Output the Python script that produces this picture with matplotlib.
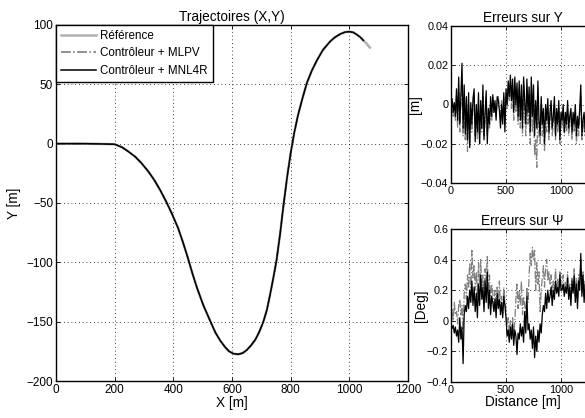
import numpy as np
import matplotlib
matplotlib.use("Agg")
import matplotlib.pyplot as plt

plt.rcParams['font.family'] = ['Liberation Sans', 'DejaVu Sans']
plt.rcParams['font.size'] = 8.5

# Trajectoire (X,Y)
traj_x = [0, 100, 150, 200, 225, 246, 270, 291, 315, 336, 356, 376, 396, 416, 432,
          448, 464, 480, 502, 525, 543, 560, 575, 590, 605, 621, 636, 650, 665,
          680, 694, 707, 719, 730, 741, 752, 764, 775, 788, 800, 812, 825, 840,
          855, 872, 889, 910, 934, 950, 970, 985, 1000, 1013, 1025, 1037, 1048,
          1060, 1070]
traj_y = [0, 0, -0.2, -0.5, -3, -6.5, -11, -16.3, -23.5, -31, -39.5, -49, -59.5, -71,
          -82.5, -95, -108.5, -121, -136, -149, -159, -166, -171, -175, -177,
          -177.5, -176.5, -174, -170, -165, -158, -150, -140, -127, -113, -98,
          -76, -53, -28, -8, 9, 24, 38, 51, 61.5, 70, 79, 86, 89.5, 92.5, 94,
          94.4, 93.8, 92, 89.8, 87, 84, 81]
n_ctrl = len(traj_x) - 2  # les controleurs s'arretent un peu avant la fin

# Distance parcourue (pas de 10 m)
distance = np.arange(0, 1240, 10)

ey_mnl4r = [0.002, 0.003, -0.004, 0.001, -0.006, 0.008, -0.008, 0.014, -0.010, 0.005, 0.021,
            -0.012, 0.010, -0.015, 0.004, -0.018, 0.006, -0.022, 0.001, -0.010, 0.003,
            0.008, -0.019, 0.000, -0.014, 0.006, -0.020, 0.002, -0.012, 0.010, -0.018,
            -0.004, 0.007, -0.020, -0.002, -0.010, 0.004, -0.006, 0.005, -0.004, 0.002,
            -0.008, 0.004, 0.002, -0.003, -0.012, 0.000, -0.010, 0.006, -0.014, 0.008,
            0.000, 0.012, 0.004, 0.015, 0.002, 0.013, -0.004, 0.014, 0.000, 0.011,
            -0.006, 0.012, -0.008, 0.010, -0.012, 0.014, 0.002, -0.010, 0.013, -0.004,
            0.009, -0.014, 0.014, -0.006, 0.010, -0.016, 0.002, -0.012, 0.012, -0.008,
            -0.016, 0.004, -0.010, -0.002, -0.020, 0.000, -0.008, 0.003, -0.014, -0.004,
            0.002, -0.012, -0.006, 0.004, -0.016, -0.002, -0.010, 0.002, -0.018, -0.004,
            -0.008, 0.000, -0.014, -0.004, -0.010, 0.002, -0.012, -0.006, -0.002, -0.014,
            -0.004, -0.010, 0.000, -0.016, -0.006, -0.012, -0.002, 0.010, -0.016, -0.008,
            -0.004, -0.014, -0.010]

ey_mlpv = [-0.002, 0.001, -0.006, 0.000, -0.008, 0.004, -0.012, 0.006, -0.014, 0.000, 0.010,
           -0.016, 0.002, -0.018, -0.004, -0.024, 0.000, -0.020, -0.004, -0.014, -0.002,
           0.004, -0.016, -0.006, -0.018, 0.000, -0.020, -0.002, -0.014, 0.004, -0.016,
           -0.008, 0.002, -0.016, -0.006, -0.012, 0.000, -0.008, 0.004, -0.004, 0.000,
           -0.006, 0.002, 0.004, -0.002, -0.008, 0.002, -0.006, 0.004, -0.010, 0.004,
           -0.002, 0.008, 0.002, 0.010, -0.002, 0.008, -0.008, 0.010, -0.004, 0.006,
           -0.010, 0.008, -0.012, 0.004, -0.016, 0.010, -0.006, -0.016, 0.006, -0.010,
           0.002, -0.020, 0.006, -0.014, 0.000, -0.026, -0.018, -0.032, 0.004, -0.016,
           -0.020, 0.000, -0.016, -0.008, -0.024, -0.004, -0.014, -0.002, -0.018, -0.008,
           -0.002, -0.016, -0.010, 0.000, -0.018, -0.006, -0.014, -0.002, -0.020, -0.008,
           -0.012, -0.004, -0.016, -0.008, -0.014, -0.002, -0.016, -0.010, -0.004, -0.018,
           -0.008, -0.014, -0.004, -0.020, -0.010, -0.016, -0.006, 0.004, -0.018, -0.012,
           -0.008, -0.016, -0.012]

epsi_mnl4r = [-0.02, -0.05, -0.03, -0.08, -0.04, -0.10, -0.06, -0.14, 0.02, -0.12, -0.04,
              -0.28, 0.04, 0.10, 0.06, 0.16, 0.08, 0.20, 0.12, 0.26, 0.10,
              0.22, 0.06, 0.18, 0.02, 0.24, 0.10, 0.30, 0.14, 0.22, 0.06,
              0.26, 0.12, 0.32, 0.08, 0.20, 0.04, 0.16, 0.12, 0.06, 0.14,
              0.02, 0.18, 0.08, 0.14, 0.04, 0.12, 0.02, 0.16, 0.10, 0.02,
              -0.10, -0.06, -0.14, -0.04, -0.12, -0.02, -0.16, -0.06, -0.10, -0.22,
              -0.08, -0.12, -0.02, -0.10, -0.04, -0.14, 0.06, -0.08, 0.16, -0.06,
              -0.02, -0.12, -0.06, -0.18, -0.04, -0.24, -0.10, -0.20, -0.06, -0.14,
              -0.02, -0.08, 0.04, 0.10, 0.06, 0.18, 0.08, 0.20, 0.12, 0.16,
              0.22, 0.10, 0.20, 0.14, 0.26, 0.18, 0.22, 0.16, 0.30, 0.20,
              0.20, 0.24, 0.16, 0.22, 0.18, 0.28, 0.14, 0.22, 0.10, 0.26,
              0.18, 0.30, 0.12, 0.24, 0.08, 0.26, 0.20, 0.44, 0.16, 0.30,
              0.12, 0.24, 0.16]

epsi_mlpv = [0.02, 0.08, 0.00, 0.12, 0.04, 0.06, -0.02, 0.10, 0.14, 0.04, 0.10,
             -0.06, 0.18, 0.24, 0.14, 0.30, 0.22, 0.38, 0.18, 0.46, 0.28,
             0.36, 0.20, 0.32, 0.16, 0.38, 0.24, 0.40, 0.22, 0.30, 0.16,
             0.34, 0.26, 0.42, 0.18, 0.30, 0.12, 0.24, 0.18, 0.10, 0.20,
             0.08, 0.22, 0.12, 0.26, 0.08, 0.16, 0.04, 0.22, 0.14, 0.06,
             -0.04, 0.02, -0.08, 0.00, -0.06, 0.02, -0.10, 0.00, 0.14, 0.24,
             0.08, 0.20, 0.10, 0.26, 0.04, 0.16, 0.10, 0.06, 0.22, 0.12,
             0.30, 0.44, 0.36, 0.48, 0.40, 0.46, 0.20, 0.38, 0.24, 0.32,
             0.06, 0.20, 0.28, 0.36, 0.22, 0.34, 0.40, 0.26, 0.32, 0.24,
             0.30, 0.18, 0.26, 0.20, 0.34, 0.22, 0.28, 0.20, 0.32, 0.24,
             0.22, 0.30, 0.18, 0.26, 0.20, 0.32, 0.16, 0.24, 0.14, 0.28,
             0.22, 0.34, 0.16, 0.28, 0.12, 0.30, 0.24, 0.40, 0.18, 0.32,
             0.16, 0.26, 0.20]

W, H = 585, 418
fig = plt.figure(figsize=(W / 100, H / 100), dpi=100)


def style_axes(ax, tick_size=8.5):
    ax.grid(True, color='black', linestyle=(0, (1, 3.5)), linewidth=0.6)
    ax.tick_params(direction='in', length=3, width=0.6, colors='black',
                   top=True, right=True, pad=2, labelsize=tick_size)
    for sp in ax.spines.values():
        sp.set_linewidth(1.0)


# Trajectoires
ax = fig.add_axes([56 / W, (H - 381) / H, 352 / W, 356 / H])
ax.plot(traj_x, traj_y, color='#b0b0b0', linewidth=1.8, label='Référence')
ax.plot(traj_x[:n_ctrl], traj_y[:n_ctrl], color='#707070', linestyle='-.',
        linewidth=1.1, label='Contrôleur + MLPV')
ax.plot(traj_x[:n_ctrl], traj_y[:n_ctrl], color='black', linewidth=1.1,
        label='Contrôleur + MNL4R')
ax.set_xlim(0, 1200)
ax.set_ylim(-200, 100)
ax.set_xticks([0, 200, 400, 600, 800, 1000, 1200])
ax.set_yticks([-200, -150, -100, -50, 0, 50, 100])
ax.set_xlabel('X [m]', fontsize=9.8, labelpad=0)
ax.set_ylabel('Y [m]', fontsize=9.8, labelpad=4)
ax.set_title('Trajectoires (X,Y)', fontsize=9.8, pad=3)
style_axes(ax)
leg = ax.legend(loc='upper left', fontsize=8.4, fancybox=False, framealpha=1,
                edgecolor='black', borderaxespad=0, handlelength=3.0,
                borderpad=0.4, labelspacing=0.5, handletextpad=0.4)
leg.get_frame().set_linewidth(1.0)

# Erreurs sur Y
ax1 = fig.add_axes([451 / W, (H - 183) / H, 143 / W, 157 / H])
ax1.plot(distance, ey_mlpv, color='#808080', linestyle='-.', linewidth=0.9)
ax1.plot(distance, ey_mnl4r, color='black', linewidth=0.9)
ax1.set_xlim(0, 1300)
ax1.set_ylim(-0.04, 0.04)
ax1.set_xticks([0, 500, 1000])
ax1.set_yticks([-0.04, -0.02, 0, 0.02, 0.04])
ax1.set_yticklabels(['\u22120.04', '\u22120.02', '0', '0.02', '0.04'])
ax1.set_ylabel('[m]', fontsize=9.8, labelpad=-1)
ax1.set_title('Erreurs sur Y', fontsize=9.8, pad=3)
style_axes(ax1, tick_size=7.8)

# Erreurs sur Psi
ax2 = fig.add_axes([451 / W, (H - 382) / H, 143 / W, 153 / H])
ax2.plot(distance, epsi_mlpv, color='#808080', linestyle='-.', linewidth=0.9)
ax2.plot(distance, epsi_mnl4r, color='black', linewidth=0.9)
ax2.set_xlim(0, 1300)
ax2.set_ylim(-0.4, 0.6)
ax2.set_xticks([0, 500, 1000])
ax2.set_yticks([-0.4, -0.2, 0, 0.2, 0.4, 0.6])
ax2.set_yticklabels(['\u22120.4', '\u22120.2', '0', '0.2', '0.4', '0.6'])
ax2.set_xlabel('Distance [m]', fontsize=9.8, labelpad=0)
ax2.set_ylabel('[Deg]', fontsize=9.8, labelpad=-1)
ax2.set_title('Erreurs sur \u03a8', fontsize=9.8, pad=3)
style_axes(ax2, tick_size=7.8)

fig.savefig('out.png', dpi=100)
